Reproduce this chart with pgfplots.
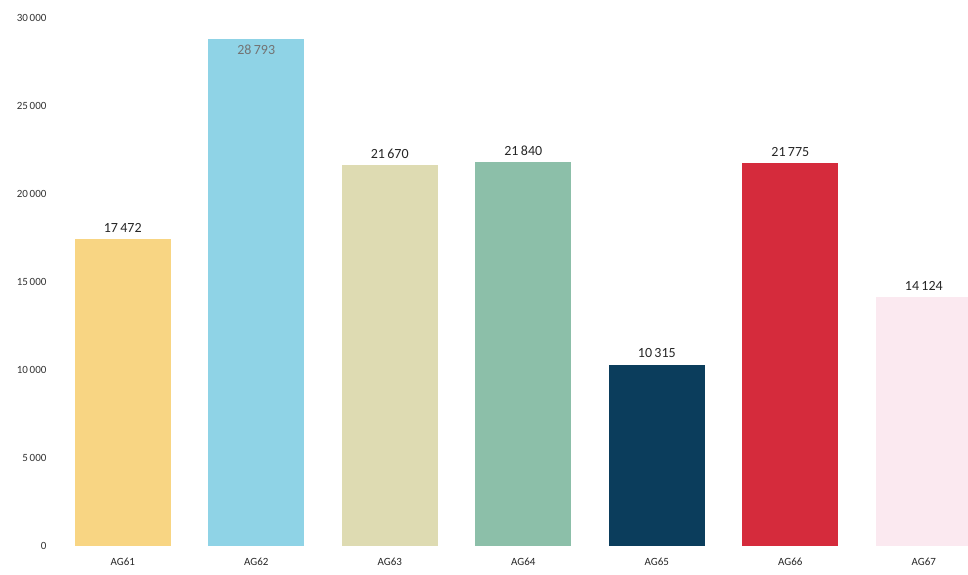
\documentclass[border=0pt]{standalone}
\usepackage{pgfplots}
\pgfplotsset{compat=1.18}
\usepackage{fontspec}
\setmainfont{Carlito}
\definecolor{c1}{HTML}{F8D583}
\definecolor{c2}{HTML}{8FD3E6}
\definecolor{c3}{HTML}{DEDBB2}
\definecolor{c4}{HTML}{8CBFA9}
\definecolor{c5}{HTML}{0B3D5C}
\definecolor{c6}{HTML}{D52B3C}
\definecolor{c7}{HTML}{FBE9F0}
\begin{document}
\begin{tikzpicture}
\begin{axis}[name=ax,
  scale only axis, width=912pt, height=546pt,
  xmin=-0.5, xmax=6.33, ymin=0, ymax=31023,
  ybar, bar width=96pt, bar shift=0pt,
  axis line style={draw=none}, major tick length=0pt,
  ytick={0,5000,10000,15000,20000,25000,30000},
  xtick={0,1,2,3,4,5,6},
  xticklabels={AG61,AG62,AG63,AG64,AG65,AG66,AG67},
  /pgf/number format/.cd, 1000 sep={\,}, assume math mode=true,
  /pgfplots/.cd,
  scaled y ticks=false,
  yticklabel style={font=\fontsize{11}{11}\selectfont, text=black!80, xshift=-6pt},
  xticklabel style={font=\fontsize{11}{11}\selectfont, text=black!85, yshift=-8pt},
  nodes near coords,
  every node near coord/.append style={font=\fontsize{14}{14}\selectfont, text=black!85, anchor=south, yshift=3pt},
]
\addplot[fill=c1, draw=none] coordinates {(0,17472)};
\addplot[fill=c2, draw=none, every node near coord/.append style={anchor=north, yshift=-5pt, text=black!55}] coordinates {(1,28793)};
\addplot[fill=c3, draw=none] coordinates {(2,21670)};
\addplot[fill=c4, draw=none] coordinates {(3,21840)};
\addplot[fill=c5, draw=none] coordinates {(4,10315)};
\addplot[fill=c6, draw=none] coordinates {(5,21775)};
\addplot[fill=c7, draw=none] coordinates {(6,14124)};
\end{axis}
\path (ax.south west) ++(-56pt,-28pt);
\path (ax.north east);
\end{tikzpicture}
\end{document}
